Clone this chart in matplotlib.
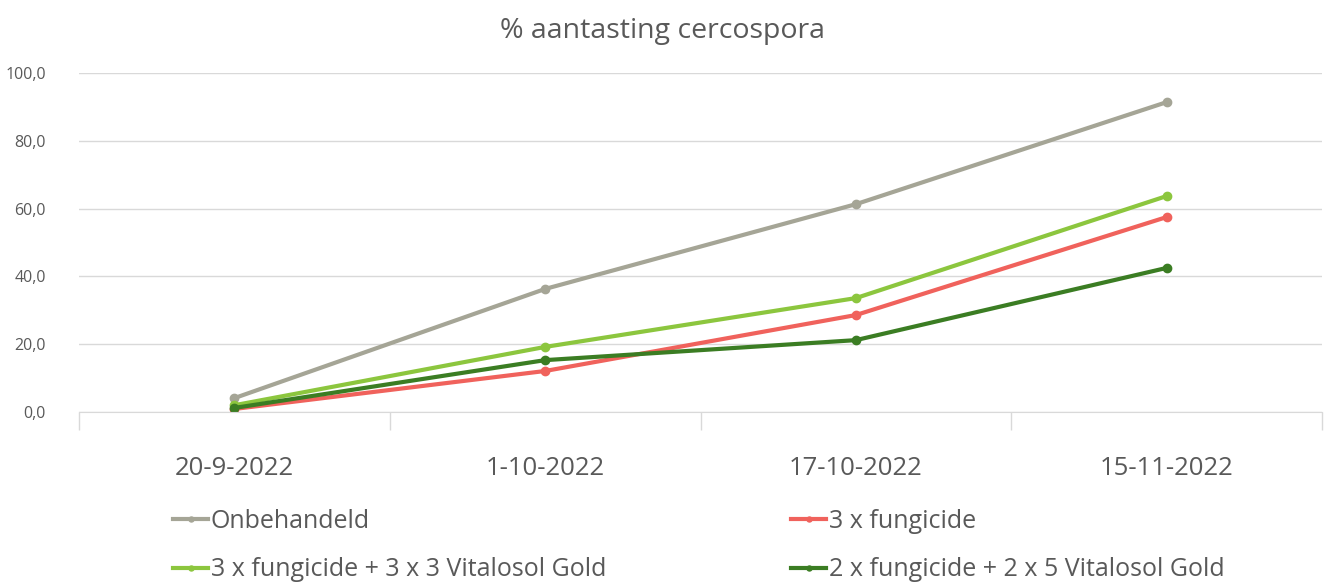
import matplotlib.pyplot as plt
from matplotlib.ticker import FixedLocator, FuncFormatter

plt.rcParams['font.family'] = ['Open Sans', 'DejaVu Sans']

# data
dates = ['20-9-2022', '1-10-2022', '17-10-2022', '15-11-2022']
onbehandeld = [4.1, 36.3, 61.3, 91.4]
fungicide = [0.9, 12.1, 28.6, 57.5]
fung_vit_3x3 = [2.0, 19.2, 33.6, 63.7]
fung_vit_2x5 = [1.2, 15.3, 21.2, 42.5]

series = [
    ('Onbehandeld', onbehandeld, '#a5a596'),
    ('3 x fungicide', fungicide, '#f0625c'),
    ('3 x fungicide + 3 x 3 Vitalosol Gold', fung_vit_3x3, '#8cc63e'),
    ('2 x fungicide + 2 x 5 Vitalosol Gold', fung_vit_2x5, '#3b7d23'),
]

txt = '#595959'
fig = plt.figure(figsize=(13.24, 5.83), dpi=100)
ax = fig.add_axes([0.0597, 0.2933, 0.9388, 0.5815])

x = list(range(len(dates)))
lines = []
for name, vals, col in series:
    ln, = ax.plot(x, vals, color=col, lw=3, marker='o', ms=6, label=name)
    lines.append(ln)

ax.set_xlim(-0.5, 3.5)
ax.set_ylim(0, 100)
ax.set_yticks([0, 20, 40, 60, 80, 100])
ax.yaxis.set_major_formatter(FuncFormatter(lambda v, p: ('%.1f' % v).replace('.', ',')))
ax.grid(axis='y', color='#d9d9d9', lw=1)
ax.set_axisbelow(True)
for s in ['left', 'right', 'top']:
    ax.spines[s].set_visible(False)
ax.spines['bottom'].set_color('#d9d9d9')
ax.tick_params(axis='y', length=0, pad=24, labelsize=11.5, labelcolor=txt)

ax.set_xticks(x)
ax.set_xticklabels(dates)
ax.tick_params(axis='x', which='major', length=0, pad=32, labelsize=18.5, labelcolor=txt)
ax.xaxis.set_minor_locator(FixedLocator([-0.5, 0.5, 1.5, 2.5, 3.5]))
ax.tick_params(axis='x', which='minor', length=13, color='#d9d9d9', width=1)

fig.text(0.5, 0.947, '% aantasting cercospora', ha='center', va='center', fontsize=20.5, color=txt)

# legend fills column-wise, so reorder to match rows
order = [0, 2, 1, 3]
fig.legend([lines[i] for i in order], [series[i][0] for i in order],
           loc='upper left', bbox_to_anchor=(0.114, 0.166), ncol=2, frameon=False,
           fontsize=18, labelcolor=txt, handlelength=1.4, handletextpad=0.1,
           columnspacing=7.4, markerscale=0.6, labelspacing=0.95)
for h in fig.legends[0].legend_handles:
    h.set_linewidth(3)

fig.savefig('out.png', dpi=100)
